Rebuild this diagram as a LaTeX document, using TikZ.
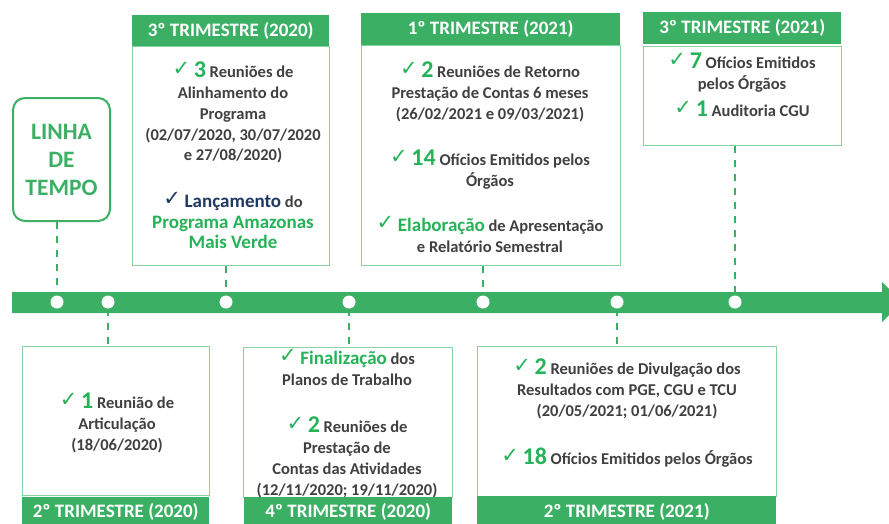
\documentclass[tikz,border=0pt]{standalone}
\usepackage{fontspec}
\setmainfont{Carlito}
\newfontfamily\symfont{DejaVu Sans}
\definecolor{tlgreen}{RGB}{59,176,100}
\definecolor{numgreen}{RGB}{38,178,88}
\definecolor{boxgreen}{RGB}{134,211,160}
\definecolor{txtgray}{RGB}{64,64,64}
\definecolor{navy}{RGB}{31,56,100}
\newcommand{\ok}[1][numgreen]{\raisebox{2pt}{\symfont\fontsize{21}{21}\selectfont\color{#1}✓}\ }
\newcommand{\bignum}[1]{{\fontsize{24}{24}\selectfont\color{numgreen}#1}}
\newcommand{\hl}[2][numgreen]{{\fontsize{19}{19}\selectfont\color{#1}#2}}

\begin{document}
\begin{tikzpicture}[x=1pt,y=-1pt,
  every node/.style={font=\bfseries\fontsize{16.5}{20.7}\selectfont, text=txtgray, inner sep=0pt},
  databox/.style={draw=boxgreen, line width=1.3pt, fill=white, anchor=north west},
  header/.style={fill=tlgreen, text=white, anchor=north west, font=\bfseries\fontsize{19}{19}\selectfont},
  info/.style={align=center, anchor=north},
  dot/.style={circle, fill=white, minimum size=13pt},
  link/.style={tlgreen, line width=2.5pt, dash pattern=on 7pt off 7pt}]
\useasboundingbox (0,0) rectangle (889,523);

% caixa da linha do tempo
\node[draw=tlgreen, line width=2pt, rounded corners=12pt, minimum width=97pt, minimum height=123pt,
  anchor=north west, align=center, text=tlgreen, font=\bfseries\fontsize{23.5}{28}\selectfont] (tempo) at (12,97) {LINHA\\DE\\TEMPO};

% caixas de cima
\node[databox, minimum width=197pt, minimum height=219pt] (b1) at (132,46) {};
\node[header, minimum width=197pt, minimum height=31pt] (h1) at (132,15) {3º TRIMESTRE (2020)};
\node[databox, minimum width=259pt, minimum height=220pt] (b2) at (361,45) {};
\node[header, minimum width=259pt, minimum height=32pt] (h2) at (361,13) {1º TRIMESTRE (2021)};
\node[databox, minimum width=198pt, minimum height=99pt] (b3) at (643,46) {};
\node[header, minimum width=198pt, minimum height=32pt] (h3) at (643,12) {3º TRIMESTRE (2021)};

% caixas de baixo
\node[databox, minimum width=187pt, minimum height=149pt] (b4) at (22,346) {};
\node[header, minimum width=187pt, minimum height=30pt] (h4) at (22,497) {2º TRIMESTRE (2020)};
\node[databox, minimum width=209pt, minimum height=150pt] (b5) at (243,347) {};
\node[header, minimum width=208pt, minimum height=30pt] (h5) at (244,497) {4º TRIMESTRE (2020)};
\node[databox, minimum width=299pt, minimum height=150pt] (b6) at (477,346) {};
\node[header, minimum width=299pt, minimum height=31pt] (h6) at (477,496) {2º TRIMESTRE (2021)};

% seta
\fill[tlgreen] (12,292) -- (882,292) -- (882,282) -- (902,302) -- (882,322) -- (882,313) -- (12,313) -- cycle;

\node[dot] (d1) at (57,302) {};
\node[dot] (d2) at (108,302) {};
\node[dot] (d3) at (226,302) {};
\node[dot] (d4) at (349,302) {};
\node[dot] (d5) at (483,302) {};
\node[dot] (d6) at (617,302) {};
\node[dot] (d7) at (735,302) {};

\draw[link] (d1 |- tempo.south) -- (d1);
\draw[link] (d3 |- b1.south) -- (d3);
\draw[link] (d5 |- b2.south) -- (d5);
\draw[link] (d7 |- b3.south) -- (d7);
\draw[link] (d2) -- (d2 |- b4.north);
\draw[link] (d4) -- (d4 |- b5.north);
\draw[link] (d6) -- (d6 |- b6.north);

% textos
\node[info] (t1a) at (233,62) {\ok\bignum{3} Reuniões de\\Alinhamento do\\Programa\\(02/07/2020, 30/07/2020\\e 27/08/2020)};
\node[info] (t1b) at (233,192) {\ok[navy]\hl[navy]{Lançamento} do\\\hl{Programa Amazonas}\\\hl{Mais Verde}};

\node[info] (t2a) at (490,62) {\ok\bignum{2} Reuniões de Retorno\\Prestação de Contas 6 meses\\(26/02/2021 e 09/03/2021)};
\node[info] (t2b) at (490,150) {\ok\bignum{14} Ofícios Emitidos pelos\\Órgãos};
\node[info] (t2c) at (490,216) {\ok\hl{Elaboração} de Apresentação\\e Relatório Semestral};

\node[info] (t3a) at (742,53) {\ok\bignum{7} Ofícios Emitidos\\pelos Órgãos};
\node[info] (t3b) at (742,101) {\ok\bignum{1} Auditoria CGU};

\node[info] (t4) at (117,393) {\ok\bignum{1} Reunião de\\Articulação\\(18/06/2020)};

\node[info] (t5a) at (347,349) {\ok\hl{Finalização} dos\\Planos de Trabalho};
\node[info] (t5b) at (347,417) {\ok\bignum{2} Reuniões de\\Prestação de\\Contas das Atividades\\(12/11/2020; 19/11/2020)};

\node[info] (t6a) at (627,359) {\ok\bignum{2} Reuniões de Divulgação dos\\Resultados com PGE, CGU e TCU\\(20/05/2021; 01/06/2021)};
\node[info] (t6b) at (627,448) {\ok\bignum{18} Ofícios Emitidos pelos Órgãos};
\end{tikzpicture}
\end{document}
